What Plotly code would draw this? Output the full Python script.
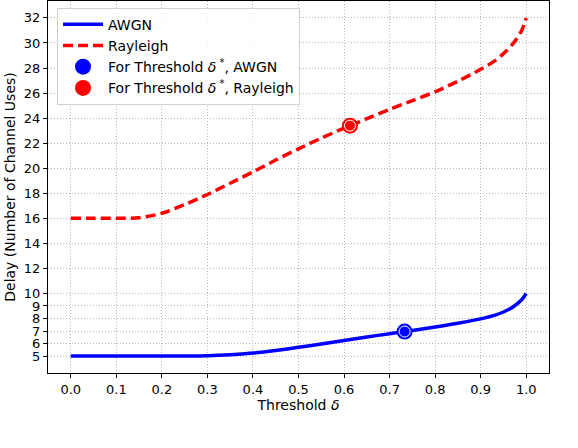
import plotly.graph_objects as go

# Data
delta = [0.0, 0.05, 0.1, 0.15, 0.2, 0.25, 0.3, 0.35, 0.4, 0.45, 0.5, 0.55, 0.6,
         0.65, 0.7, 0.75, 0.8, 0.85, 0.9, 0.93, 0.95, 0.97, 0.99, 1.0]
awgn = [5.0, 5.0, 5.0, 5.0, 5.0, 5.0, 5.02, 5.1, 5.24, 5.45, 5.7, 5.97, 6.25,
        6.52, 6.79, 7.05, 7.32, 7.62, 7.97, 8.25, 8.52, 8.9, 9.5, 10.0]
rayleigh = [16.0, 16.0, 16.0, 16.05, 16.4, 17.1, 17.9, 18.8, 19.7, 20.65, 21.55, 22.4, 23.2,
            23.95, 24.7, 25.4, 26.1, 26.95, 27.9, 28.55, 29.15, 29.9, 31.0, 32.0]
star_awgn_x = [0.733]
star_awgn_y = [6.96]
star_ray_x = [0.613]
star_ray_y = [23.4]

x_ticks = [0.0, 0.1, 0.2, 0.3, 0.4, 0.5, 0.6, 0.7, 0.8, 0.9, 1.0]
y_ticks = [5, 6, 7, 8, 9, 10, 12, 14, 16, 18, 20, 22, 24, 26, 28, 30, 32]

FONT = "DejaVu Sans"

fig = go.Figure()
fig.add_trace(go.Scatter(x=delta, y=awgn, mode="lines", name="AWGN",
                         line=dict(color="#0000ff", width=3.5, shape="spline", smoothing=0.8)))
fig.add_trace(go.Scatter(x=delta, y=rayleigh, mode="lines", name="Rayleigh",
                         line=dict(color="#ff0000", width=3.5, dash="10px,5px", shape="spline", smoothing=0.8)))
fig.add_trace(go.Scatter(x=star_awgn_x, y=star_awgn_y, mode="markers",
                         name="For Threshold <i>δ</i><sup> *</sup>, AWGN", legendgroup="a",
                         marker=dict(color="#0000ff", size=16, line=dict(width=0))))
fig.add_trace(go.Scatter(x=star_awgn_x, y=star_awgn_y, mode="markers", showlegend=False,
                         legendgroup="a", hoverinfo="skip",
                         marker=dict(symbol="circle-open", color="white", size=11, line=dict(width=1, color="white"))))
fig.add_trace(go.Scatter(x=star_ray_x, y=star_ray_y, mode="markers",
                         name="For Threshold <i>δ</i><sup> *</sup>, Rayleigh", legendgroup="r",
                         marker=dict(color="#ff0000", size=16, line=dict(width=0))))
fig.add_trace(go.Scatter(x=star_ray_x, y=star_ray_y, mode="markers", showlegend=False,
                         legendgroup="r", hoverinfo="skip",
                         marker=dict(symbol="circle-open", color="white", size=11, line=dict(width=1, color="white"))))

axis_common = dict(showline=True, linecolor="black", linewidth=1.3, mirror=True,
                   ticks="outside", ticklen=4, tickwidth=1, tickcolor="black",
                   showgrid=True, gridcolor="#b8b8b8", griddash="1px,2px", gridwidth=1,
                   zeroline=False, automargin=False,
                   tickfont=dict(family=FONT, size=13, color="black"))

fig.update_layout(
    width=578, height=448,
    margin=dict(l=48, r=29, t=1, b=75),
    paper_bgcolor="white", plot_bgcolor="white",
    font=dict(family=FONT, size=14, color="black"),
    showlegend=True,
    hovermode=False,
    legend=dict(x=0.018, y=0.982, xanchor="left", yanchor="top",
                bgcolor="rgba(255,255,255,0.85)", bordercolor="#d0d0d0", borderwidth=1,
                font=dict(family=FONT, size=14, color="black"), itemwidth=40,
                tracegroupgap=0),
)
fig.update_xaxes(range=[-0.05, 1.05], tickvals=x_ticks,
                 ticktext=[f"{v:.1f}" for v in x_ticks],
                 title=dict(text="Threshold <i>δ</i>", font=dict(family=FONT, size=14), standoff=4),
                 **axis_common)
fig.update_yaxes(range=[3.65, 33.35], tickvals=y_ticks,
                 ticktext=[str(v) for v in y_ticks],
                 title=dict(text="Delay (Number of Channel Uses)", font=dict(family=FONT, size=14), standoff=4),
                 **axis_common)

fig.write_html("out.html", config={"displayModeBar": False},
               post_script="document.body.style.margin='0';")
